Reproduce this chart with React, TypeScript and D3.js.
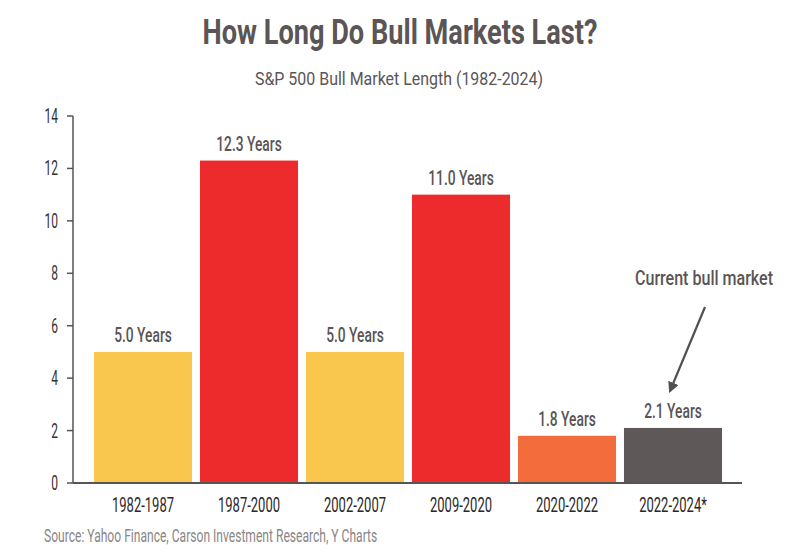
import React, { useLayoutEffect, useRef, useState } from "react";
import * as d3 from "d3";

const categories = ["1982-1987", "1987-2000", "2002-2007", "2009-2020", "2020-2022", "2022-2024*"];
const values = [5.0, 12.3, 5.0, 11.0, 1.8, 2.1];
const valueLabels = ["5.0 Years", "12.3 Years", "5.0 Years", "11.0 Years", "1.8 Years", "2.1 Years"];
const barColors = ["#F9C74D", "#EE2B2C", "#F9C74D", "#EE2B2C", "#F26D3B", "#5E5859"];
const yTicks = [0, 2, 4, 6, 8, 10, 12, 14];
const title = "How Long Do Bull Markets Last?";
const subtitle = "S&P 500 Bull Market Length (1982-2024)";
const source = "Source: Yahoo Finance, Carson Investment Research, Y Charts";
const annotation = "Current bull market";

const FONT = "Roboto, 'Liberation Sans', sans-serif";

type CTextProps = {
  x: number;
  y: number;
  w?: number;
  sx?: number;
  anchor?: "start" | "middle" | "end";
  size: number;
  fill: string;
  weight?: number | string;
  children: string;
};

function CText({ x, y, w, sx, anchor = "start", size, fill, weight = 400, children }: CTextProps) {
  const ref = useRef<SVGTextElement>(null);
  const [s, setS] = useState(sx ?? 0.7);
  useLayoutEffect(() => {
    if (w && ref.current) {
      const len = ref.current.getComputedTextLength();
      if (len > 0) setS(w / len);
    }
  }, [w, children]);
  return (
    <text
      ref={ref}
      transform={`translate(${x},${y}) scale(${w ? s : sx ?? 0.7},1)`}
      textAnchor={anchor}
      fontSize={size}
      fill={fill}
      fontWeight={weight}
      fontFamily={FONT}
    >
      {children}
    </text>
  );
}

export default function App() {
  const W = 800, H = 560;
  const x = d3.scaleBand<string>().domain(categories).range([90, 726]).paddingInner(0.075).paddingOuter(0.0375);
  const y = d3.scaleLinear().domain([0, 14]).range([483, 116]);
  const axisX = 73;
  const last = categories.length - 1;
  const ax = x(categories[last])! + x.bandwidth() / 2;
  return (
    <svg width={W} height={H} style={{ position: "absolute", left: 0, top: 0, background: "#fff" }}>
      <defs>
        <marker id="ah" viewBox="0 0 10 10" refX="8" refY="5" markerWidth="5" markerHeight="5" orient="auto">
          <path d="M0,0 L10,5 L0,10 z" fill="#555050" />
        </marker>
      </defs>
      <rect width={W} height={H} fill="#fff" />
      <CText x={400} y={44} w={395} anchor="middle" size={36} weight={700} fill="#5B5556">{title}</CText>
      <CText x={399} y={85} w={288} anchor="middle" size={18.5} fill="#5B5556">{subtitle}</CText>
      {values.map((v, i) => (
        <rect key={categories[i]} x={x(categories[i])} y={y(v)} width={x.bandwidth()} height={y(0) - y(v)} fill={barColors[i]} />
      ))}
      {values.map((v, i) => (
        <CText key={"l" + i} x={x(categories[i])! + x.bandwidth() / 2} y={y(v) - 10} sx={0.7} anchor="middle" size={19.7} weight={500} fill="#5A5455">{valueLabels[i]}</CText>
      ))}
      <line x1={axisX} x2={axisX} y1={y(14)} y2={y(0)} stroke="#555" strokeWidth={1.5} />
      <line x1={axisX} x2={742} y1={y(0)} y2={y(0)} stroke="#555" strokeWidth={2} />
      {yTicks.map((t) => (
        <g key={t}>
          <line x1={axisX - 6} x2={axisX} y1={y(t)} y2={y(t)} stroke="#555" strokeWidth={1.5} />
          <CText x={58} y={y(t) + 7} sx={0.6} anchor="end" size={20} fill="#333">{String(t)}</CText>
        </g>
      ))}
      {categories.map((c) => (
        <CText key={c} x={x(c)! + x.bandwidth() / 2} y={512} sx={0.66} anchor="middle" size={19.7} fill="#2B2728">{c}</CText>
      ))}
      <CText x={44} y={542} w={333} size={18.3} fill="#8A8586">{source}</CText>
      <CText x={704} y={285} w={138} anchor="middle" size={20.4} weight={500} fill="#5A5455">{annotation}</CText>
      <line x1={ax + 32} y1={307} x2={ax - 3} y2={391} stroke="#555050" strokeWidth={2.2} markerEnd="url(#ah)" />
    </svg>
  );
}
